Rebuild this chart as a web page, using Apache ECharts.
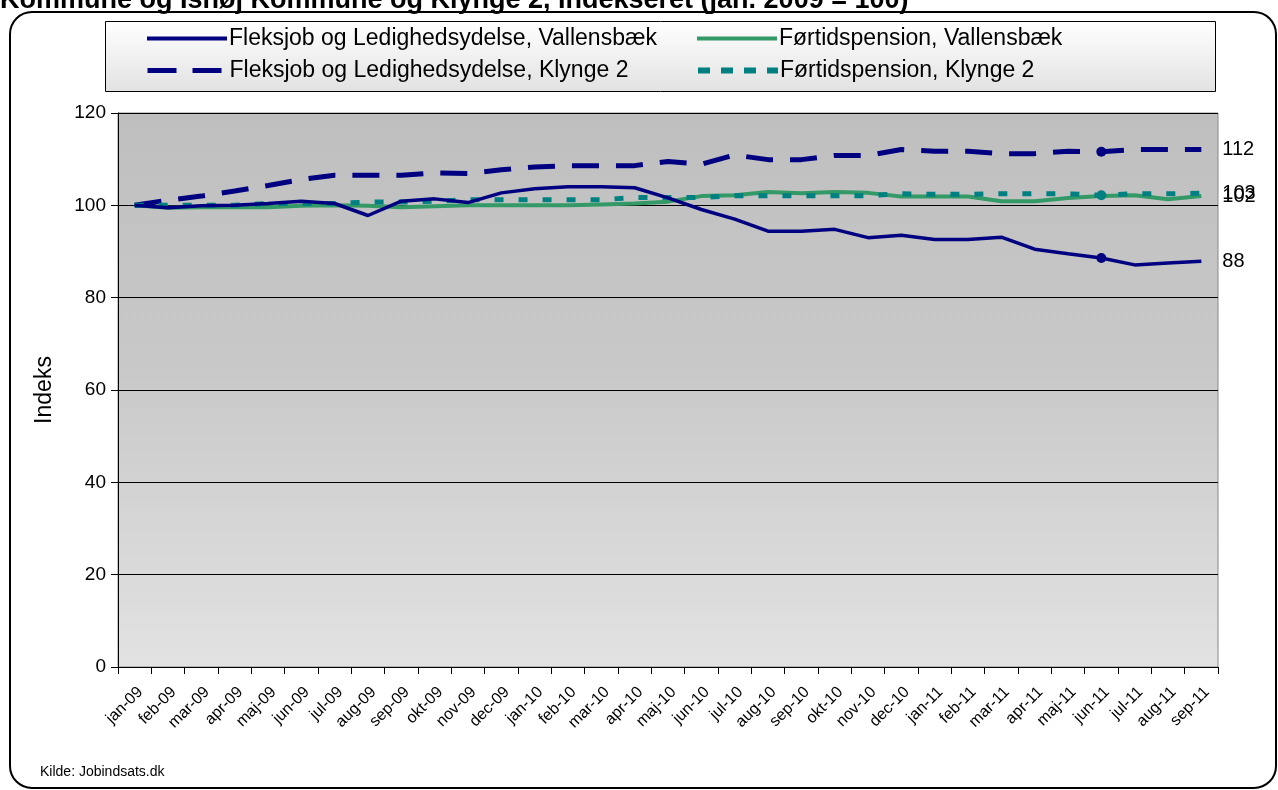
<!DOCTYPE html>
<html>
<head>
<meta charset="utf-8">
<script src="https://cdn.jsdelivr.net/npm/echarts@6/dist/echarts.min.js"></script>
<style>
html,body{margin:0;padding:0;background:#fff;}
#chart{width:1278px;height:790px;}
</style>
</head>
<body>
<div id="chart"></div>
<script>
const months = ['jan-09','feb-09','mar-09','apr-09','maj-09','jun-09','jul-09','aug-09','sep-09','okt-09','nov-09','dec-09',
  'jan-10','feb-10','mar-10','apr-10','maj-10','jun-10','jul-10','aug-10','sep-10','okt-10','nov-10','dec-10',
  'jan-11','feb-11','mar-11','apr-11','maj-11','jun-11','jul-11','aug-11','sep-11'];
const fleksVallensbaek = [100,99.5,99.9,100,100.4,100.9,100.4,97.8,100.9,101.4,100.6,102.7,103.6,104,104,103.8,101.6,99.1,97,94.4,94.4,94.8,93,93.5,92.6,92.6,93.1,90.5,89.5,88.6,87.1,87.5,87.9];
const fleksKlynge2 = [100,101.1,102,103.1,104.3,105.6,106.5,106.5,106.5,107,106.9,107.7,108.3,108.6,108.6,108.6,109.5,108.9,110.9,109.9,109.9,110.8,110.8,112.1,111.7,111.7,111.2,111.2,111.7,111.6,112.1,112.1,112.1];
const foertidVallensbaek = [100,99.5,99.6,99.6,99.6,99.9,100,99.9,99.6,99.8,100,100,100,100,100.2,100.4,100.8,102,102.2,102.9,102.6,102.9,102.7,101.9,101.9,101.9,100.9,100.9,101.6,102,102.2,101.3,102];
const foertidKlynge2 = [100,100,100,100,100.4,100.4,100.4,100.7,100.7,100.9,101.2,101.2,101.2,101.2,101.2,101.7,101.7,101.7,102.1,102.1,102.1,102.1,102.1,102.5,102.4,102.4,102.5,102.5,102.5,102.2,102.5,102.5,102.6];
const seriesNames = ['Fleksjob og Ledighedsydelse, Vallensbæk','Førtidspension, Vallensbæk','Fleksjob og Ledighedsydelse, Klynge 2','Førtidspension, Klynge 2'];
const markedIndex = 29;
const titleText = 'Kommune og Ishøj Kommune og Klynge 2, Indekseret (jan. 2009 = 100)';
const sourceText = 'Kilde: Jobindsats.dk';

const FONT = 'Liberation Sans, Arial, sans-serif';

function withMarker(arr, color, mark) {
  return arr.map((v, i) => (mark && i === markedIndex)
    ? {value: v, symbol: 'circle', symbolSize: 10, itemStyle: {color: color}}
    : v);
}
function endLbl() {
  return {show: true, distance: 21, color: '#000', fontFamily: FONT, fontSize: 20,
    formatter: p => String(Math.round(Array.isArray(p.value) ? p.value[1] : p.value))};
}
function legendFor(name, left, top, lineStyle) {
  return {
    orient: 'vertical', left: left, top: top, padding: 0,
    itemWidth: 80, itemHeight: 14,
    data: [name],
    itemStyle: {opacity: 0},
    lineStyle: lineStyle,
    textStyle: {fontFamily: FONT, fontSize: 23, color: '#000', padding: [0, 0, 0, -3]},
    selectedMode: false
  };
}

const chart = echarts.init(document.getElementById('chart'), null, {renderer: 'canvas'});
const option = {
  animation: false,
  backgroundColor: '#ffffff',
  grid: {
    left: 118, right: 60, top: 113, bottom: 123,
    show: true,
    backgroundColor: new echarts.graphic.LinearGradient(0, 0, 0, 1, [
      {offset: 0, color: '#bfbfbf'}, {offset: 0.45, color: '#c8c8c8'}, {offset: 1, color: '#e2e2e2'}]),
    borderColor: '#888888', borderWidth: 1
  },
  legend: [
    legendFor(seriesNames[0], 145, 27, {color: '#000080', width: 4, type: 'solid'}),
    legendFor(seriesNames[2], 145, 59, {color: '#000080', width: 5, type: [29, 16]}),
    legendFor(seriesNames[1], 695, 27, {color: '#339966', width: 4, type: 'solid'}),
    legendFor(seriesNames[3], 695, 59, {color: '#008080', width: 6, type: [12, 11]})
  ],
  xAxis: {
    type: 'category', data: months, boundaryGap: true,
    axisLine: {lineStyle: {color: '#000', width: 1}},
    axisTick: {show: true, alignWithLabel: false, length: 7, lineStyle: {color: '#000'}, interval: 0},
    axisLabel: {interval: 0, rotate: 45, fontFamily: FONT, fontSize: 16, color: '#000', margin: 17, verticalAlign: 'top'},
    splitLine: {show: false}
  },
  yAxis: {
    type: 'value', min: 0, max: 120, interval: 20,
    name: 'Indeks', nameLocation: 'middle', nameRotate: 90, nameGap: 62,
    nameTextStyle: {fontFamily: FONT, fontSize: 23, color: '#000'},
    axisLine: {show: true, lineStyle: {color: '#000', width: 1}},
    axisTick: {show: true, length: 7, lineStyle: {color: '#000'}},
    axisLabel: {fontFamily: FONT, fontSize: 19, color: '#000', margin: 12},
    splitLine: {show: true, lineStyle: {color: '#000', width: 1}}
  },
  series: [
    {
      name: seriesNames[0], type: 'line', symbol: 'none', showSymbol: true,
      data: withMarker(fleksVallensbaek, '#000080', true),
      lineStyle: {color: '#000080', width: 3.5}, itemStyle: {color: '#000080'},
      endLabel: endLbl(), z: 5
    },
    {
      name: seriesNames[1], type: 'line', symbol: 'none', showSymbol: true,
      data: withMarker(foertidVallensbaek, '#339966', false),
      lineStyle: {color: '#339966', width: 4}, itemStyle: {color: '#339966'},
      endLabel: endLbl(), z: 3
    },
    {
      name: seriesNames[2], type: 'line', symbol: 'none', showSymbol: true,
      data: withMarker(fleksKlynge2, '#000080', true),
      lineStyle: {color: '#000080', width: 5, type: [27, 17]}, itemStyle: {color: '#000080'},
      endLabel: endLbl(), z: 4
    },
    {
      name: seriesNames[3], type: 'line', symbol: 'none', showSymbol: true,
      data: withMarker(foertidKlynge2, '#008080', true),
      lineStyle: {color: '#008080', width: 5, type: [9, 15]}, itemStyle: {color: '#008080'},
      endLabel: endLbl(), z: 4
    }
  ],
  graphic: [
    {
      type: 'rect', z: -1,
      shape: {x: 10, y: 12, width: 1266, height: 776, r: 22},
      style: {fill: 'none', stroke: '#000', lineWidth: 2}
    },
    {
      type: 'rect', z: 0,
      shape: {x: 105.5, y: 21.5, width: 1110, height: 70},
      style: {
        fill: new echarts.graphic.LinearGradient(0, 0, 0, 1, [{offset: 0, color: '#ffffff'}, {offset: 1, color: '#e2e2e2'}]),
        stroke: '#000', lineWidth: 1
      }
    },
    {
      type: 'text', left: 0, top: -13,
      style: {text: titleText, font: 'bold 27px ' + FONT, fill: '#000'}
    },
    {
      type: 'text', left: 40, top: 765,
      style: {text: sourceText, font: '14px ' + FONT, fill: '#000'}
    }
  ]
};
chart.setOption(option);
</script>
</body>
</html>
